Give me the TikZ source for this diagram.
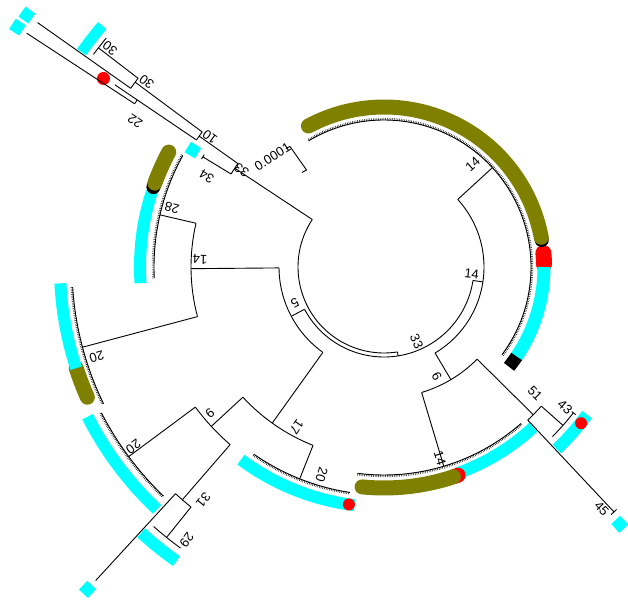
\documentclass[tikz,border=0pt]{standalone}
\usepackage{fontspec}
\setmainfont{Liberation Sans}
\definecolor{cy}{HTML}{00FFFF}
\definecolor{ol}{HTML}{808000}
\definecolor{rd}{HTML}{FF0000}
\newcommand{\tarc}[3]{\draw[tree] (#2:#1) arc[start angle=#2,end angle=#3,radius=#1];}
\newcommand{\trad}[3]{\draw[tree] (#1:#2) -- (#1:#3);}
\newcommand{\leafarc}[3]{\tarc{#1}{#2}{#3}\pgfmathsetmacro{\rrr}{#1+1.1}\draw[leafticks] (#2:\rrr) arc[start angle=#2,end angle=#3,radius=\rrr];}
\newcommand{\band}[6]{\draw[line width=#2,draw=#1,#6] (#4:#3) arc[start angle=#4,end angle=#5,radius=#3];}
\begin{document}
\begin{tikzpicture}[x=1pt,y=1pt,
  tree/.style={line width=0.9pt,draw=black},
  leafticks/.style={line width=2.2pt,draw=black,dash pattern=on 0.45pt off 1.3pt},
  lbl/.style={font=\fontsize{13}{15}\selectfont,inner sep=0pt,text=black}]
\useasboundingbox (0,0) rectangle (628,599);
\begin{scope}[shift={(384,332)}]
% ---- colour strips ----
% big olive clade
\band{rd}{16}{160}{1}{5}{line cap=round}
\band{cy}{13}{160}{0}{-34}{line cap=butt}
\band{black}{13}{160}{-34}{-38.6}{}
\band{black}{14}{160}{9.7}{11}{line cap=round}
\band{ol}{15}{160}{118.2}{10.7}{line cap=round}
% N28
\band{cy}{12}{244}{162}{183.8}{}
\band{black}{14}{244}{158}{160.9}{line cap=round}
\band{ol}{15}{244}{151.9}{159.9}{line cap=round}
% N20a
\band{ol}{15}{324}{198.2}{203.7}{line cap=round}
\band{cy}{12}{324}{182.9}{198.2}{}
% N20b
\band{cy}{12}{332}{206.8}{226.9}{}
% N29
\band{cy}{12}{360}{227.6}{234.8}{}
\band{cy}{12}{438}{226.6}{228.2}{}
% N20c
\band{cy}{12}{240}{233.4}{263}{}
\fill[rd] (261.6:240) circle (6);
% N14b
\band{cy}{12}{219}{289.5}{313}{}
\band{rd}{15}{221}{288.6}{289.6}{line cap=round}
\band{ol}{15}{221}{264.3}{288.3}{line cap=round}
% N43
\band{cy}{12}{251}{313.5}{324}{}
\fill[rd] (321.6:251.5) circle (6);
\band{cy}{12}{349}{311.5}{313.5}{}
% upper left
\band{cy}{12}{224}{147}{150.1}{}
\band{cy}{11}{371}{139.4}{144.6}{}
\band{cy}{12}{438}{146}{147.6}{}
\band{cy}{12}{437}{144}{145.6}{}
\fill[rd] (146.1:338) circle (6.5);
% ---- tree ----
\tarc{86}{146.5}{279}
\trad{146.5}{86}{179}
\trad{279}{86}{90}
\tarc{90}{208}{351.4}
\trad{208}{90}{105}
\trad{351.4}{90}{100}
\tarc{105}{180.5}{234.4}
\tarc{100}{300.7}{402.5}
% N5 side
\trad{180.5}{105}{193}
\tarc{193}{166.9}{194.9}
\trad{166.9}{193}{230}
\leafarc{230}{151}{182.8}
\trad{194.9}{193}{312}
\leafarc{312}{183.7}{206}
\trad{234.4}{105}{192}
\tarc{192}{222.7}{248.3}
\trad{222.7}{192}{235}
\tarc{235}{216.6}{229.1}
\trad{216.6}{235}{318}
\leafarc{318}{207.3}{226.1}
\trad{229.1}{235}{308}
\tarc{308}{227.4}{231.2}
\trad{227.4}{308}{426}
\trad{231.2}{308}{347}
\tarc{347}{228.4}{234.1}
\trad{248.3}{192}{228}
\leafarc{228}{235.2}{261.4}
% Y side
\trad{300.7}{100}{131}
\tarc{131}{286.7}{315.3}
\trad{286.7}{131}{208}
\leafarc{208}{262.7}{311.2}
\trad{315.3}{131}{210}
\tarc{210}{313.2}{318.5}
\trad{313.2}{210}{336}
\tarc{336}{312.5}{313.8}
\trad{318.5}{210}{239}
\tarc{239}{314.8}{322.4}
\trad{322.4}{237}{242}
\trad{42.5}{100}{147}
\leafarc{147}{-36.6}{120.9}
% upper left
\tarc{179}{144.7}{148.7}
\trad{148.7}{179}{212}
\tarc{212}{148}{149.4}
\trad{144.7}{179}{226.5}
\tarc{226.5}{143.4}{145.9}
\trad{143.4}{226.5}{310}
\tarc{310}{142.5}{144.8}
\trad{142.5}{310}{360}
\tarc{360}{140.5}{143.8}
\trad{144.8}{310}{424}
\trad{145.9}{226.5}{298}
\tarc{298}{145.9}{146.8}
\trad{145.9}{298}{325}
\trad{146.8}{298}{427}
\end{scope}
% scale bar
\draw[tree] (286,450.5) -- (290,452.5) -- (306.5,429) -- (302,426.5);
\node[lbl,rotate=32] (sc) at (272.5,442.3) {0.0001};
% labels
\node[lbl,rotate=146] (l1) at (241.7,429) {33};
\node[lbl,rotate=149] (l2) at (206.7,422.3) {34};
\node[lbl,rotate=144] (l3) at (210,462.3) {10};
\node[lbl,rotate=143] (l4) at (146.7,517.3) {30};
\node[lbl,rotate=142] (l5) at (110,550.7) {30};
\node[lbl,rotate=146] (l6) at (135,477.3) {22};
\node[lbl,rotate=42] (l7) at (472.7,435) {14};
\node[lbl,rotate=354] (l8) at (471.7,325) {14};
\node[lbl,rotate=294] (l9) at (416.7,257.3) {33};
\node[lbl,rotate=207] (l10) at (295,295.7) {5};
\node[lbl,rotate=165] (l11) at (172,391.5) {28};
\node[lbl,rotate=178] (l12) at (200,339.7) {14};
\node[lbl,rotate=197] (l13) at (96.7,242.3) {20};
\node[lbl,rotate=220] (l14) at (210,185.7) {9};
\node[lbl,rotate=235] (l15) at (296.7,172.3) {17};
\node[lbl,rotate=216] (l16) at (133.3,152.3) {20};
\node[lbl,rotate=230] (l17) at (203.3,99) {31};
\node[lbl,rotate=234] (l18) at (186.7,59) {29};
\node[lbl,rotate=253] (l19) at (321.7,124) {20};
\node[lbl,rotate=300] (l20) at (436.7,222.3) {6};
\node[lbl,rotate=287] (l21) at (440,140.7) {14};
\node[lbl,rotate=315] (l22) at (535,205.7) {51};
\node[lbl,rotate=318] (l23) at (565,192.3) {43};
\node[lbl,rotate=313] (l24) at (601.7,90.7) {45};
\end{tikzpicture}
\end{document}
